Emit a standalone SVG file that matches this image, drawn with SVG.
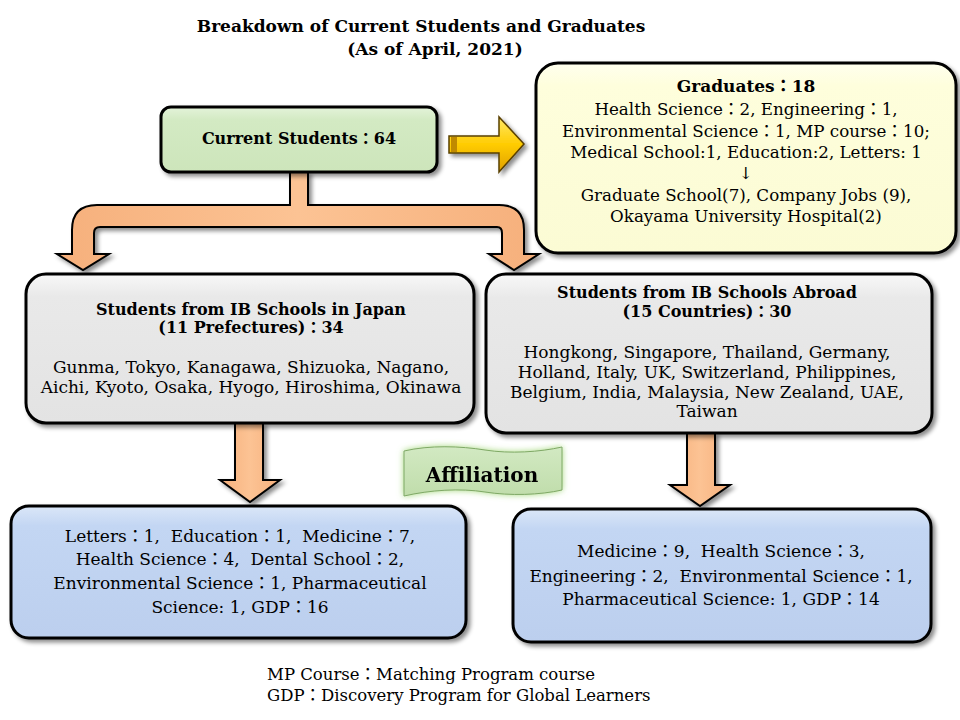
<svg xmlns="http://www.w3.org/2000/svg" width="960" height="720" viewBox="0 0 960 720">
<style>
text{font-family:"DejaVu Serif","Liberation Serif","Noto Sans CJK JP",serif;fill:#000;text-anchor:middle;white-space:pre}
.b{font-weight:bold}
.t{font-size:16px}
.r{font-size:17px}
.g{font-size:16.7px}
.h{font-size:16px}
.n{font-size:16.5px;text-anchor:start}
.box{stroke:#000;stroke-width:3}
.arr{fill:url(#gOr);stroke:#000;stroke-width:2;stroke-linejoin:miter}
</style>
<defs>
<filter id="sh" x="-10%" y="-10%" width="125%" height="130%">
<feDropShadow dx="3" dy="3" stdDeviation="2" flood-color="#000" flood-opacity="0.45"/>
</filter>
<filter id="glow" x="-20%" y="-40%" width="140%" height="180%">
<feGaussianBlur in="SourceAlpha" stdDeviation="3" result="b"/>
<feFlood flood-color="#9bd46e" flood-opacity="0.9"/>
<feComposite in2="b" operator="in" result="g"/>
<feMerge><feMergeNode in="g"/><feMergeNode in="SourceGraphic"/></feMerge>
</filter>
<linearGradient id="gGreen" x1="0" y1="0" x2="0" y2="1"><stop offset="0" stop-color="#e4f3da"/><stop offset="0.2" stop-color="#d3eac3"/><stop offset="1" stop-color="#cde5bb"/></linearGradient>
<linearGradient id="gYel" x1="0" y1="0" x2="0" y2="1"><stop offset="0" stop-color="#ffffee"/><stop offset="0.12" stop-color="#fefedc"/><stop offset="1" stop-color="#fbfbd4"/></linearGradient>
<linearGradient id="gGrey" x1="0" y1="0" x2="0" y2="1"><stop offset="0" stop-color="#f8f8f8"/><stop offset="0.15" stop-color="#e9e9e9"/><stop offset="1" stop-color="#e3e3e3"/></linearGradient>
<linearGradient id="gBlue" x1="0" y1="0" x2="0" y2="1"><stop offset="0" stop-color="#dbe7f8"/><stop offset="0.15" stop-color="#c3d6f3"/><stop offset="1" stop-color="#bccfee"/></linearGradient>
<linearGradient id="gOr" x1="0" y1="0" x2="1" y2="0"><stop offset="0" stop-color="#f6b07c"/><stop offset="0.5" stop-color="#fcc394"/><stop offset="1" stop-color="#f6b07c"/></linearGradient>
<linearGradient id="gGold" x1="0" y1="0" x2="0" y2="1"><stop offset="0" stop-color="#ffe866"/><stop offset="0.5" stop-color="#ffcc00"/><stop offset="1" stop-color="#e0a000"/></linearGradient>
<linearGradient id="gAff" x1="0" y1="0" x2="0" y2="1"><stop offset="0" stop-color="#d2e9c2"/><stop offset="1" stop-color="#c0ddab"/></linearGradient>
</defs>

<g id="title">
<text class="b" x="421" y="32" style="font-size:17px">Breakdown of Current Students and Graduates</text>
<text class="b" x="435" y="55" style="font-size:17px">(As of April, 2021)</text>
</g>

<g id="connectors">
<path class="arr" filter="url(#sh)" d="M290 172 L290 205 L97 205 Q72 205 72 230 L72 254 L57 254 L83 270 L109 254 L94 254 L94 233 Q94 227 100 227 L497 227 Q502 227 502 233 L502 254 L489 254 L514 270 L539 254 L524 254 L524 230 Q524 205 499 205 L308 205 L308 172 Z"/>
<path fill="url(#gGold)" stroke="#5a4000" stroke-width="1.5" filter="url(#sh)" d="M449 136 L499 136 L499 117 L524 144 L499 172 L499 153 L449 153 Z"/>
<path fill="#c08a00" d="M451 137 L457 137 L457 152 L451 152 Z"/>
<path class="arr" filter="url(#sh)" d="M235 423 L263 423 L263 480 L280 480 L250 502 L220 480 L235 480 Z"/>
<path class="arr" filter="url(#sh)" d="M687 433 L715 433 L715 485 L730 485 L700 506 L670 485 L687 485 Z"/>
</g>

<g id="current">
<rect class="box" x="161" y="107" width="276" height="65" rx="10" fill="url(#gGreen)" filter="url(#sh)"/>
<text class="b t" x="299" y="144">Current Students：64</text>
</g>

<g id="graduates">
<rect class="box" x="536" y="63" width="420" height="190" rx="22" fill="url(#gYel)" filter="url(#sh)"/>
<text class="b" x="746" y="92" style="font-size:17px">Graduates：18</text>
<text class="g" x="746" y="115">Health Science：2, Engineering：1,</text>
<text class="g" x="746" y="137">Environmental Science：1, MP course：10;</text>
<text class="g" x="746" y="158">Medical School:1, Education:2, Letters: 1</text>
<text class="g" x="746" y="179">↓</text>
<text class="g" x="746" y="201">Graduate School(7), Company Jobs (9),</text>
<text class="g" x="746" y="222">Okayama University Hospital(2)</text>
</g>

<g id="japan">
<rect class="box" x="26" y="274" width="448" height="149" rx="20" fill="url(#gGrey)" filter="url(#sh)"/>
<text class="b h" x="251" y="315">Students from IB Schools in Japan</text>
<text class="b h" x="251" y="333">(11 Prefectures)：34</text>
<text class="r" x="251" y="373">Gunma, Tokyo, Kanagawa, Shizuoka, Nagano,</text>
<text class="r" x="251" y="393">Aichi, Kyoto, Osaka, Hyogo, Hiroshima, Okinawa</text>
</g>

<g id="abroad">
<rect class="box" x="486" y="274" width="446" height="159" rx="20" fill="url(#gGrey)" filter="url(#sh)"/>
<text class="b h" x="707" y="298">Students from IB Schools Abroad</text>
<text class="b h" x="707" y="317">(15 Countries)：30</text>
<text class="r" x="707" y="358">Hongkong, Singapore, Thailand, Germany,</text>
<text class="r" x="707" y="378">Holland, Italy, UK, Switzerland, Philippines,</text>
<text class="r" x="707" y="398">Belgium, India, Malaysia, New Zealand, UAE,</text>
<text class="r" x="707" y="417">Taiwan</text>
</g>

<g id="affiliation" filter="url(#glow)">
<path fill="url(#gAff)" stroke="#7fa866" stroke-width="1" d="M404 451 C430 445 460 446 485 450 C510 454 540 452 562 447 L562 490 C540 495 510 496 485 492 C460 488 430 490 404 496 Z"/>
<text class="b" x="482" y="482" style="font-size:20px">Affiliation</text>
</g>

<g id="affil-japan">
<rect class="box" x="11" y="506" width="455" height="132" rx="18" fill="url(#gBlue)" filter="url(#sh)"/>
<text class="r" x="240" y="542">Letters：1,  Education：1,  Medicine：7,</text>
<text class="r" x="240" y="565">Health Science：4,  Dental School：2,</text>
<text class="r" x="240" y="589">Environmental Science：1, Pharmaceutical</text>
<text class="r" x="240" y="613">Science: 1, GDP：16</text>
</g>

<g id="affil-abroad">
<rect class="box" x="513" y="509" width="418" height="133" rx="18" fill="url(#gBlue)" filter="url(#sh)"/>
<text class="r" x="721" y="557">Medicine：9,  Health Science：3,</text>
<text class="r" x="721" y="582">Engineering：2,  Environmental Science：1,</text>
<text class="r" x="721" y="605">Pharmaceutical Science: 1, GDP：14</text>
</g>

<g id="notes">
<text class="n" x="267" y="680">MP Course：Matching Program course</text>
<text class="n" x="267" y="701">GDP：Discovery Program for Global Learners</text>
</g>
</svg>
